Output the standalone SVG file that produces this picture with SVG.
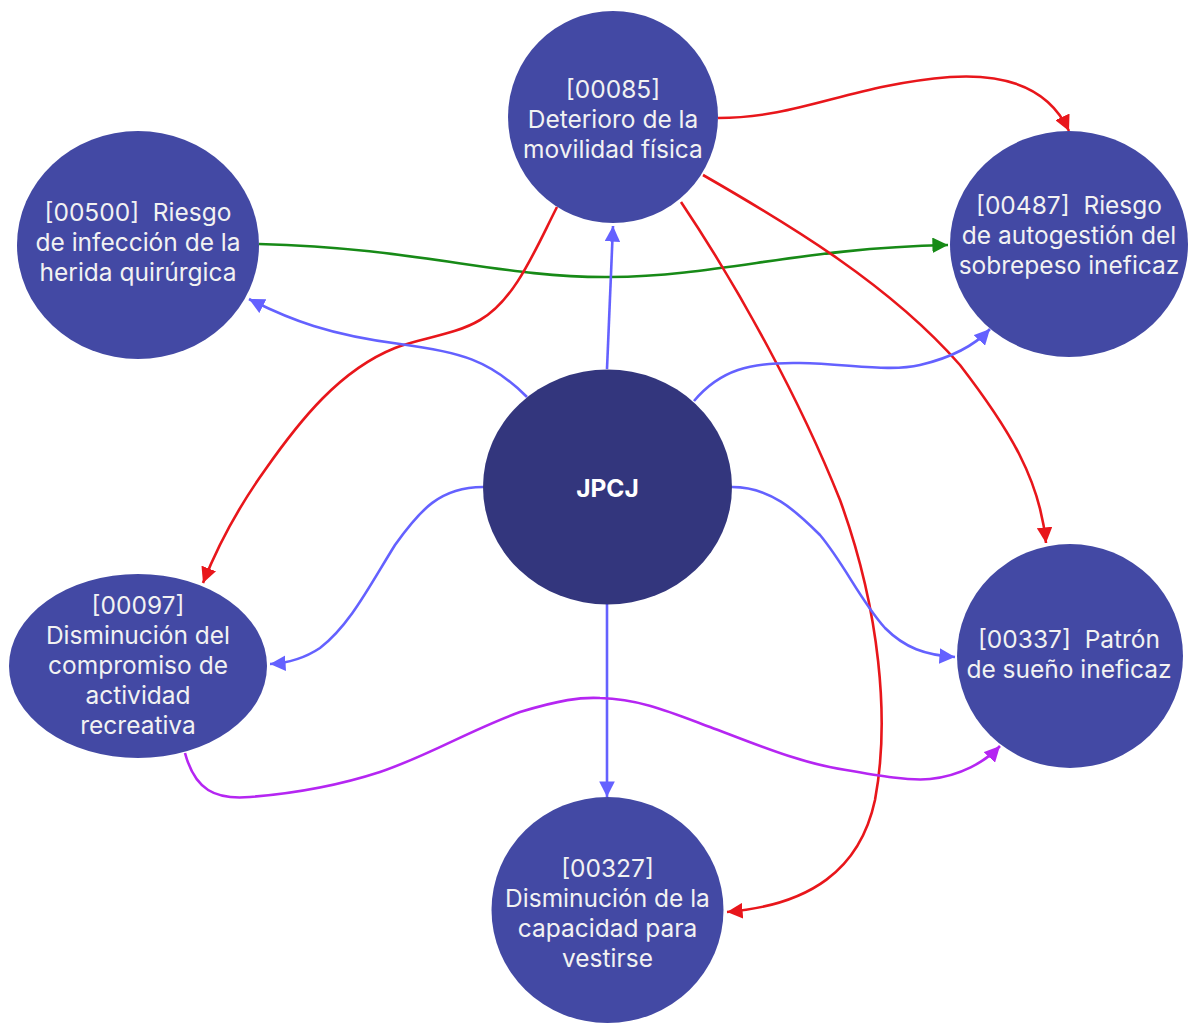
<svg xmlns="http://www.w3.org/2000/svg" width="1188" height="1023" viewBox="0 0 1188 1023">
<defs>
<style>
.node{fill:#4349a4}
.center{fill:#33367d}
.lbl{font-family:Inter,"Noto Sans","Liberation Sans",sans-serif;font-size:24.5px;fill:#f2f2f2;text-anchor:middle}
.bold{font-weight:bold;fill:#ffffff}
.e{fill:none;stroke-width:2.6}
.blue{stroke:#6461ff}
.red{stroke:#e8161b}
.green{stroke:#178a17}
.purple{stroke:#b526f2}
</style>
<marker id="aBlue" viewBox="0 0 10 10" refX="10" refY="5" markerWidth="6" markerHeight="6" orient="auto-start-reverse" markerUnits="strokeWidth"><path d="M0,0 L10,5 L0,10 z" fill="#6461ff"/></marker>
<marker id="aRed" viewBox="0 0 10 10" refX="10" refY="5" markerWidth="6" markerHeight="6" orient="auto-start-reverse" markerUnits="strokeWidth"><path d="M0,0 L10,5 L0,10 z" fill="#e8161b"/></marker>
<marker id="aGreen" viewBox="0 0 10 10" refX="10" refY="5" markerWidth="6" markerHeight="6" orient="auto-start-reverse" markerUnits="strokeWidth"><path d="M0,0 L10,5 L0,10 z" fill="#178a17"/></marker>
<marker id="aPurple" viewBox="0 0 10 10" refX="10" refY="5" markerWidth="6" markerHeight="6" orient="auto-start-reverse" markerUnits="strokeWidth"><path d="M0,0 L10,5 L0,10 z" fill="#b526f2"/></marker>
</defs>
<rect width="1188" height="1023" fill="#ffffff"/>
<g id="connectors">
<path class="e green" marker-end="url(#aGreen)" d="M259,244 C420,248 500,278 610,277 C720,276 800,248 948,245"/>
<path class="e red" marker-end="url(#aRed)" d="M718,118 C800,118 850,85 950,77 C1010,73 1050,90 1069,131"/>
<path class="e red" marker-end="url(#aRed)" d="M557,207 C535,250 515,300 480,320 C455,335 420,338 395,348 C340,370 300,420 265,470 C240,505 220,540 203,583"/>
<path class="e red" marker-end="url(#aRed)" d="M703,175 C790,225 890,285 960,365 C1010,430 1040,480 1046,543"/>
<path class="e red" marker-end="url(#aRed)" d="M681,202 C740,290 800,400 840,500 C880,610 890,720 875,800 C860,870 810,905 727,912"/>
<path class="e blue" marker-end="url(#aBlue)" d="M607,369 L613,226"/>
<path class="e blue" marker-end="url(#aBlue)" d="M527,397 C490,360 460,352 400,344 C330,335 290,320 249,299"/>
<path class="e blue" marker-end="url(#aBlue)" d="M694,401 C720,370 750,362 800,363 C850,364 890,372 920,365 C950,358 975,345 990,329"/>
<path class="e blue" marker-end="url(#aBlue)" d="M483,487 C440,487 420,510 395,545 C370,585 350,625 320,648 C305,658 290,663 270,664"/>
<path class="e blue" marker-end="url(#aBlue)" d="M732,487 C770,487 795,510 820,535 C845,565 860,600 885,628 C905,648 925,655 955,657"/>
<path class="e blue" marker-end="url(#aBlue)" d="M607,604 L607,797"/>
<path class="e purple" marker-end="url(#aPurple)" d="M185,753 C195,790 215,800 250,797 C300,793 340,785 380,772 C430,755 470,730 520,712 C560,700 580,697 600,698 C640,699 670,712 710,727 C760,746 800,763 846,770 C880,776 910,781 930,779 C960,776 985,762 1000,746"/>
</g>
<g id="n00085">
<ellipse class="node" cx="613" cy="117" rx="105" ry="106"/>
<text class="lbl" x="613" y="98">[00085]</text>
<text class="lbl" x="613" y="128">Deterioro de la</text>
<text class="lbl" x="613" y="158">movilidad física</text>
</g>
<g id="n00500">
<ellipse class="node" cx="138" cy="245" rx="121" ry="114"/>
<text class="lbl" x="138" y="221" xml:space="preserve">[00500]  Riesgo</text>
<text class="lbl" x="138" y="251">de infección de la</text>
<text class="lbl" x="138" y="281">herida quirúrgica</text>
</g>
<g id="n00487">
<ellipse class="node" cx="1069" cy="244" rx="119" ry="113"/>
<text class="lbl" x="1069" y="214" xml:space="preserve">[00487]  Riesgo</text>
<text class="lbl" x="1069" y="244">de autogestión del</text>
<text class="lbl" x="1069" y="274">sobrepeso ineficaz</text>
</g>
<g id="jpcj">
<ellipse class="center" cx="607.5" cy="487" rx="124.5" ry="117.5"/>
<text class="lbl bold" x="607.5" y="497">JPCJ</text>
</g>
<g id="n00097">
<ellipse class="node" cx="138" cy="666" rx="129" ry="92"/>
<text class="lbl" x="138" y="614">[00097]</text>
<text class="lbl" x="138" y="644">Disminución del</text>
<text class="lbl" x="138" y="674">compromiso de</text>
<text class="lbl" x="138" y="704">actividad</text>
<text class="lbl" x="138" y="734">recreativa</text>
</g>
<g id="n00337">
<ellipse class="node" cx="1070" cy="656" rx="113" ry="112"/>
<text class="lbl" x="1069" y="648" xml:space="preserve">[00337]  Patrón</text>
<text class="lbl" x="1069" y="678">de sueño ineficaz</text>
</g>
<g id="n00327">
<ellipse class="node" cx="607.5" cy="910" rx="116" ry="113"/>
<text class="lbl" x="607.5" y="877">[00327]</text>
<text class="lbl" x="607.5" y="907">Disminución de la</text>
<text class="lbl" x="607.5" y="937">capacidad para</text>
<text class="lbl" x="607.5" y="967">vestirse</text>
</g>
</svg>
